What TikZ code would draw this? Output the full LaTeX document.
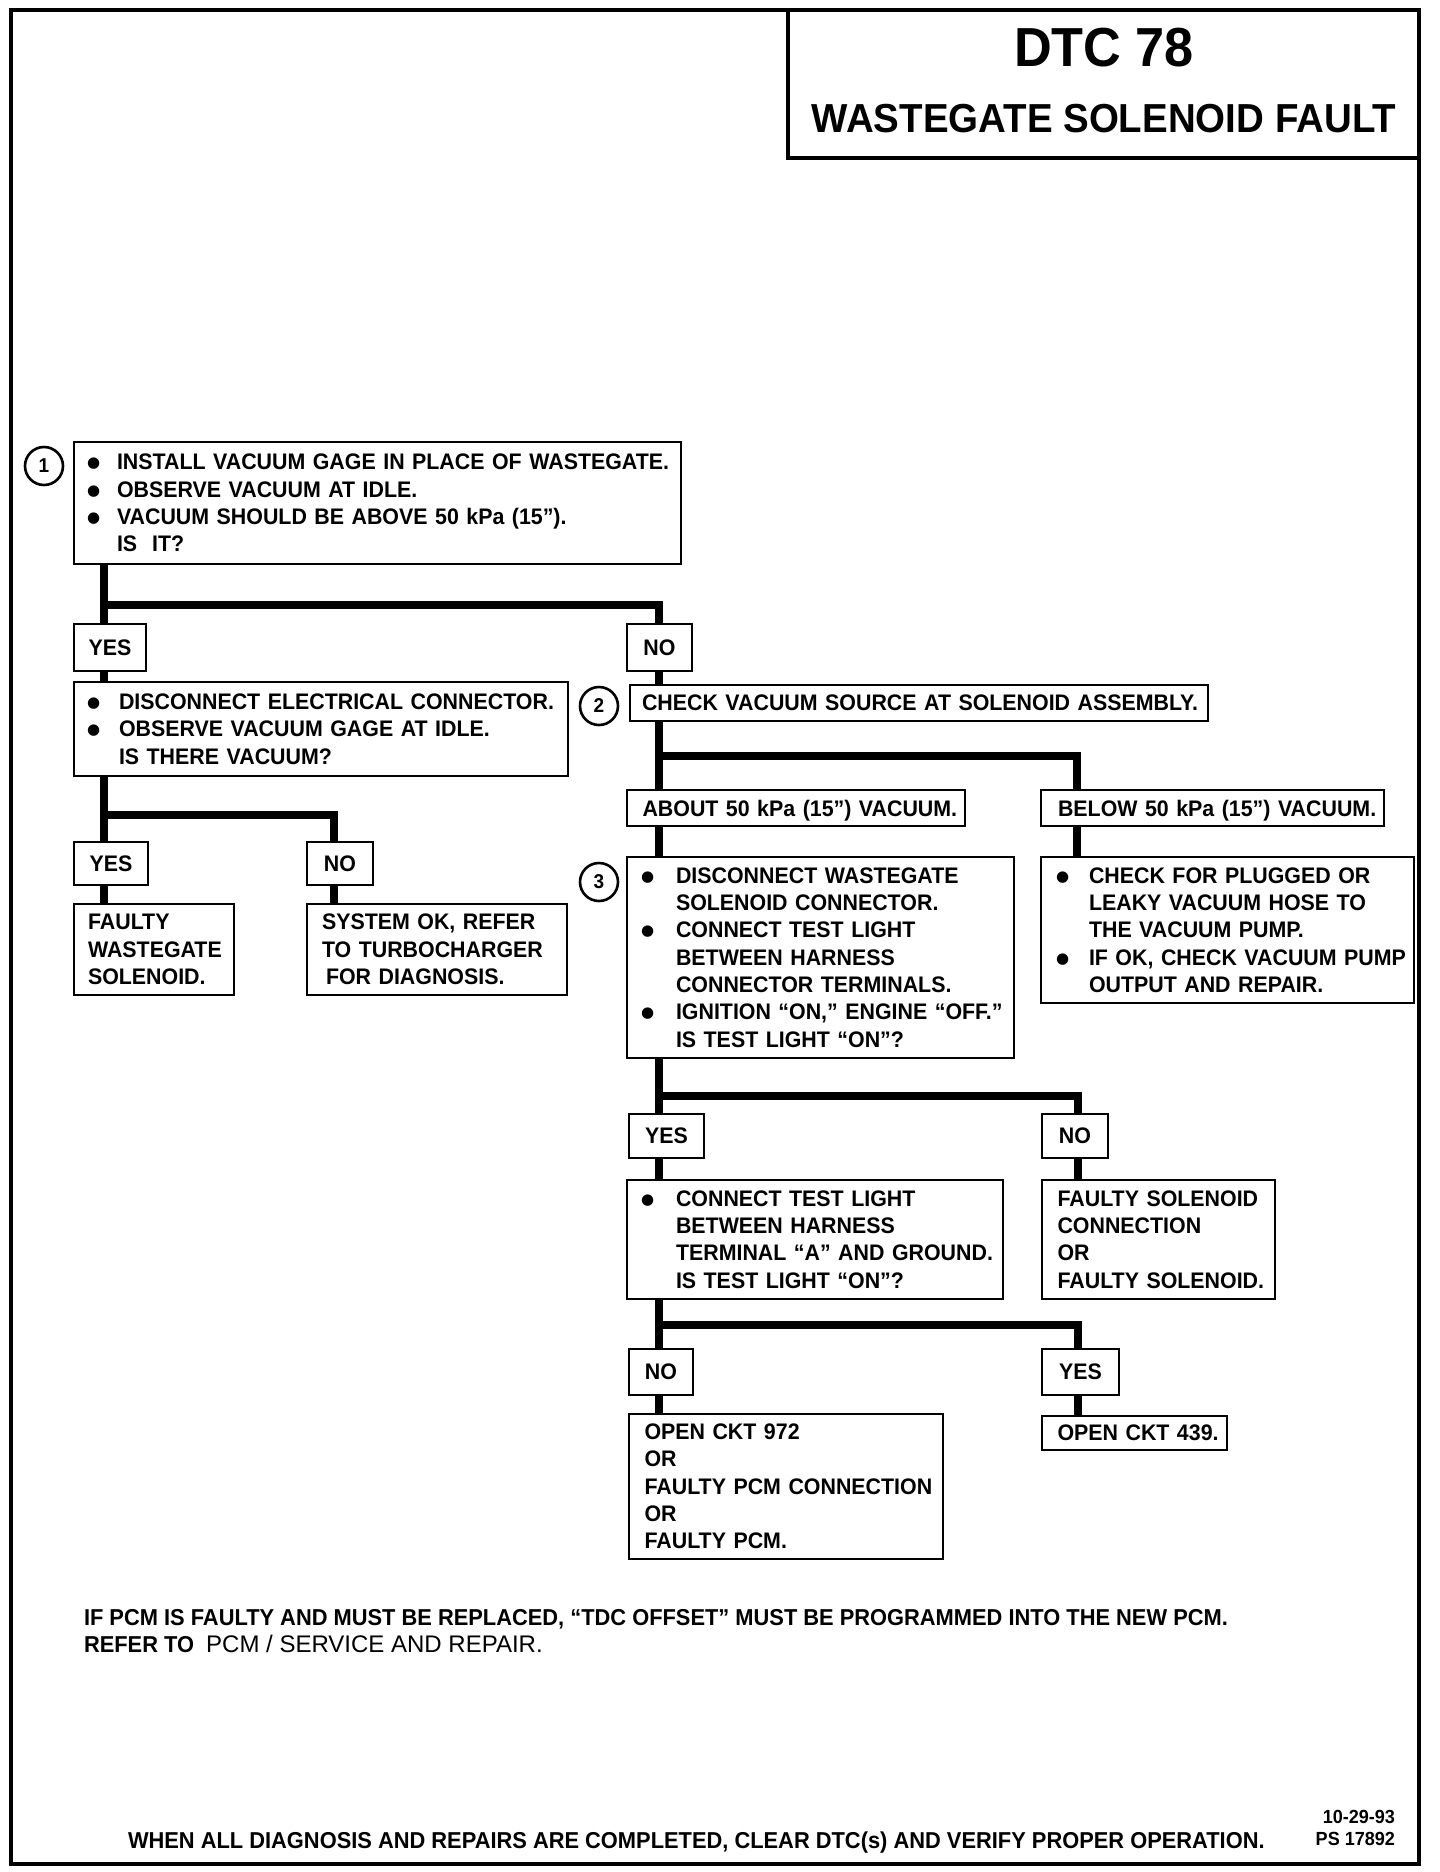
\documentclass[tikz,border=0pt]{standalone}
\usepackage{fontspec}
\newfontfamily\hv[FakeStretch=0.95]{Liberation Sans}
\newfontfamily\hvw{Liberation Sans}
\newfontfamily\dvfont{DejaVu Sans}
\newcommand{\bodyf}{\hv\bfseries\fontsize{22.5}{27.3}\selectfont}
\newcommand{\notef}{\hv\bfseries\fontsize{23}{27}\selectfont}
\newcommand{\bdot}{\hspace*{-5pt}\raisebox{2pt}{\dvfont\fontsize{15}{15}\selectfont ●}}
\newcommand{\bu}[2][25]{\mbox{\makebox[#1pt][l]{\bdot}#2}}
\newcommand{\ii}[2][25]{\mbox{\hspace*{#1pt}#2}}
\begin{document}
\begin{tikzpicture}[x=1pt,y=-1pt,
  bx/.style={draw, line width=2.4pt, rectangle, inner ysep=0pt, outer sep=0pt, anchor=north west, align=left, font=\bodyf},
  yn/.style={draw, line width=2.4pt, rectangle, inner sep=0pt, outer sep=0pt, anchor=north west, font=\bodyf},
  conn/.style={line width=7.5pt, line join=miter, line cap=butt},
  num/.style={draw, circle, line width=2.6pt, minimum size=38pt, inner sep=0pt, font=\hv\bfseries\fontsize{20}{20}\selectfont},
  txt/.style={inner sep=0pt, outer sep=0pt}
]
\fill[white] (0,0) rectangle (1440,1872);
\useasboundingbox (0,0) rectangle (1440,1872);

% frame and title
\draw[line width=4.5pt] (11,10) rectangle (1419,1864);
\node[draw, line width=4pt, anchor=north west, minimum width=631pt, minimum height=148pt, inner sep=0pt, outer sep=0pt] (title) at (788,10) {};
\node[txt, font=\hv\bfseries\fontsize{55}{55}\selectfont] (dtc) at (1104,48) {DTC 78};
\node[txt, font=\hv\bfseries\fontsize{40.5}{40.5}\selectfont] (wsf) at (1104,119) {WASTEGATE SOLENOID FAULT};

% step 1
\node[num] (c1) at (44,466) {1};
\node[bx, minimum width=607pt, minimum height=122pt, inner xsep=18pt, text width=571pt] (b1) at (74,442)
 {\bu{INSTALL VACUUM GAGE IN PLACE OF WASTEGATE.}\\
  \bu{OBSERVE VACUUM AT IDLE.}\\
  \bu{VACUUM SHOULD BE ABOVE 50 kPa (15”).}\\
  \ii{IS\ \ IT?}};
\node[yn, minimum width=72pt, minimum height=47pt] (yes1) at (74,624) {YES};
\node[yn, minimum width=65pt, minimum height=47pt] (no1) at (627,624) {NO};

% left branch
\node[bx, minimum width=494pt, minimum height=94pt, inner xsep=18pt, text width=458pt] (b2) at (74,682)
 {\bu[27]{DISCONNECT ELECTRICAL CONNECTOR.}\\
  \bu[27]{OBSERVE VACUUM GAGE AT IDLE.}\\
  \ii[27]{IS THERE VACUUM?}};
\node[yn, minimum width=74pt, minimum height=43pt] (yes2) at (74,842) {YES};
\node[yn, minimum width=66pt, minimum height=43pt] (no2) at (307,842) {NO};
\node[bx, minimum width=160pt, minimum height=91pt, inner xsep=14pt, text width=132pt] (f1) at (74,904)
 {\mbox{FAULTY}\\\mbox{WASTEGATE}\\\mbox{SOLENOID.}};
\node[bx, minimum width=260pt, minimum height=91pt, inner xsep=15pt, text width=230pt] (s1) at (307,904)
 {\mbox{SYSTEM OK, REFER}\\\mbox{TO TURBOCHARGER}\\\mbox{\hspace*{4pt}FOR DIAGNOSIS.}};

% step 2
\node[num] (c2) at (599,706) {2};
\node[bx, minimum width=578pt, minimum height=36pt, inner xsep=12pt, text width=554pt] (chk) at (630,685)
 {\mbox{CHECK VACUUM SOURCE AT SOLENOID ASSEMBLY.}};
\node[bx, minimum width=338pt, minimum height=36pt, inner xsep=15.5pt, text width=307pt, text depth=0pt] (abt) at (627,790)
 {\mbox{ABOUT 50 kPa (15”) VACUUM.}};
\node[bx, minimum width=343pt, minimum height=36pt, inner xsep=17pt, text width=309pt, text depth=0pt] (blw) at (1041,790)
 {\mbox{BELOW 50 kPa (15”) VACUUM.}};

% step 3
\node[num] (c3) at (599,882) {3};
\node[bx, minimum width=387pt, minimum height=201pt, inner xsep=19pt, text width=349pt] (b3) at (627,857)
 {\bu[30]{DISCONNECT WASTEGATE}\\
  \ii[30]{SOLENOID CONNECTOR.}\\
  \bu[30]{CONNECT TEST LIGHT}\\
  \ii[30]{BETWEEN HARNESS}\\
  \ii[30]{CONNECTOR TERMINALS.}\\
  \bu[30]{IGNITION “ON,” ENGINE “OFF.”}\\
  \ii[30]{IS TEST LIGHT “ON”?}};
\node[bx, minimum width=373pt, minimum height=146pt, inner xsep=20pt, text width=333pt] (bp) at (1041,857)
 {\bu[28]{CHECK FOR PLUGGED OR}\\
  \ii[28]{LEAKY VACUUM HOSE TO}\\
  \ii[28]{THE VACUUM PUMP.}\\
  \bu[28]{IF OK, CHECK VACUUM PUMP}\\
  \ii[28]{OUTPUT AND REPAIR.}};
\node[yn, minimum width=75pt, minimum height=44pt] (yes3) at (629,1114) {YES};
\node[yn, minimum width=66pt, minimum height=44pt] (no3) at (1042,1114) {NO};

% step 4
\node[bx, minimum width=376pt, minimum height=119pt, inner xsep=19pt, text width=338pt] (b4) at (627,1180)
 {\bu[30]{CONNECT TEST LIGHT}\\
  \ii[30]{BETWEEN HARNESS}\\
  \ii[30]{TERMINAL “A” AND GROUND.}\\
  \ii[30]{IS TEST LIGHT “ON”?}};
\node[bx, minimum width=233pt, minimum height=119pt, inner xsep=15.5pt, text width=202pt] (fs) at (1042,1180)
 {\mbox{FAULTY SOLENOID}\\\mbox{CONNECTION}\\\mbox{OR}\\\mbox{FAULTY SOLENOID.}};
\node[yn, minimum width=64pt, minimum height=46pt] (no4) at (629,1349) {NO};
\node[yn, minimum width=77pt, minimum height=46pt] (yes4) at (1042,1349) {YES};
\node[bx, minimum width=314pt, minimum height=145pt, inner xsep=15.5pt, text width=283pt] (o972) at (629,1414)
 {\mbox{OPEN CKT 972}\\\mbox{OR}\\\mbox{FAULTY PCM CONNECTION}\\\mbox{OR}\\\mbox{FAULTY PCM.}};
\node[bx, minimum width=185pt, minimum height=34pt, inner xsep=15.5pt, text width=154pt] (o439) at (1042,1416)
 {\mbox{OPEN CKT 439.}};

% connectors
\draw[conn] ([xshift=30pt]b1.south west) -- ([xshift=30pt]yes1.north west);
\draw[conn] ([xshift=30pt]b1.south west) -- ++(0,41) -| ([xshift=32pt]no1.north west);
\draw[conn] ([xshift=32pt]no1.south west) -- ([xshift=29pt]chk.north west);
\draw[conn] ([xshift=30pt]yes1.south west) -- ([xshift=30pt]b2.north west);
\draw[conn] ([xshift=30pt]b2.south west) -- ([xshift=30pt]yes2.north west);
\draw[conn] ([xshift=30pt]b2.south west) -- ++(0,39) -| ([xshift=27pt]no2.north west);
\draw[conn] ([xshift=30pt]yes2.south west) -- ([xshift=30pt]f1.north west);
\draw[conn] ([xshift=27pt]no2.south west) -- ([xshift=27pt]s1.north west);
\draw[conn] ([xshift=29pt]chk.south west) -- ([xshift=32pt]abt.north west);
\draw[conn] ([xshift=29pt]chk.south west) -- ++(0,35) -| ([xshift=36pt]blw.north west);
\draw[conn] ([xshift=32pt]abt.south west) -- ([xshift=32pt]b3.north west);
\draw[conn] ([xshift=36pt]blw.south west) -- ([xshift=36pt]bp.north west);
\draw[conn] ([xshift=32pt]b3.south west) -- ([xshift=30pt]yes3.north west);
\draw[conn] ([xshift=32pt]b3.south west) -- ++(0,38) -| ([xshift=36pt]no3.north west);
\draw[conn] ([xshift=30pt]yes3.south west) -- ([xshift=32pt]b4.north west);
\draw[conn] ([xshift=36pt]no3.south west) -- ([xshift=36pt]fs.north west);
\draw[conn] ([xshift=32pt]b4.south west) -- ([xshift=30pt]no4.north west);
\draw[conn] ([xshift=32pt]b4.south west) -- ++(0,26) -| ([xshift=36pt]yes4.north west);
\draw[conn] ([xshift=30pt]no4.south west) -- ([xshift=30pt]o972.north west);
\draw[conn] ([xshift=36pt]yes4.south west) -- ([xshift=36pt]o439.north west);

% notes
\node[txt, anchor=north west, align=left, font=\notef] (note) at (84,1609)
 {IF PCM IS FAULTY AND MUST BE REPLACED, “TDC OFFSET” MUST BE PROGRAMMED INTO THE NEW PCM.\\
  REFER TO\ \ {\hvw\mdseries\fontsize{24}{27}\selectfont PCM / SERVICE AND REPAIR.}};
\node[txt, anchor=base west, font=\notef] (final) at (128,1848)
 {WHEN ALL DIAGNOSIS AND REPAIRS ARE COMPLETED, CLEAR DTC(s) AND VERIFY PROPER OPERATION.};
\node[txt, anchor=north east, align=right, font=\hv\bfseries\fontsize{19}{22}\selectfont] (date) at (1395,1810)
 {10-29-93\\PS 17892};
\end{tikzpicture}
\end{document}
